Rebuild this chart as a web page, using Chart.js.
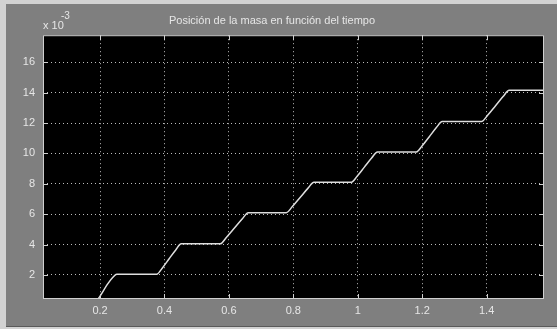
<!DOCTYPE html>
<html>
<head>
<meta charset="utf-8">
<script src="https://cdn.jsdelivr.net/npm/chart.js@4"></script>
<style>
html,body{margin:0;padding:0;background:#7f7f7f;}
canvas{display:block;}
</style>
</head>
<body>
<canvas id="c" width="557" height="329"></canvas>
<script>
// ---- data (position in units of 1e-3) ----
const titleText = "Posición de la masa en función del tiempo";
const time = [0.17, 0.194, 0.225, 0.24, 0.252,
  0.376, 0.393, 0.414, 0.435, 0.452,
  0.573, 0.592, 0.6165, 0.641, 0.66,
  0.778, 0.797, 0.821, 0.845, 0.864,
  0.98, 0.998, 1.0205, 1.043, 1.061,
  1.182, 1.2, 1.222, 1.244, 1.262,
  1.384, 1.403, 1.427, 1.451, 1.47,
  1.6];
const position = [-0.2, 0.42, 1.45, 1.85, 2.05,
  2.05, 2.45, 3.05, 3.65, 4.05,
  4.05, 4.47, 5.07, 5.68, 6.1,
  6.1, 6.5, 7.1, 7.7, 8.1,
  8.1, 8.5, 9.1, 9.7, 10.1,
  10.1, 10.5, 11.1, 11.7, 12.1,
  12.1, 12.51, 13.12, 13.74, 14.15,
  14.15];
const xTicks = [0.2, 0.4, 0.6, 0.8, 1.0, 1.2, 1.4];
const yTicks = [2, 4, 6, 8, 10, 12, 14, 16];
const xRange = [0.023, 1.578];
const yRange = [0.42, 17.78];

const FONT = "'Liberation Sans', Arial, sans-serif";

const scopePlugin = {
  id: 'scope',
  beforeDraw(chart) {
    const ctx = chart.ctx, a = chart.chartArea;
    ctx.save();
    ctx.fillStyle = '#d2d2d2';
    ctx.fillRect(0, 0, chart.width, chart.height);
    ctx.fillStyle = '#7f7f7f';
    ctx.fillRect(6, 4, chart.width - 6, chart.height - 6);
    ctx.fillStyle = '#5a5a5a';
    ctx.fillRect(6, chart.height - 3, chart.width - 6, 1);
    ctx.fillStyle = '#000';
    ctx.fillRect(a.left, a.top, a.right - a.left, a.bottom - a.top);
    ctx.restore();
  },
  afterDraw(chart) {
    const ctx = chart.ctx, a = chart.chartArea;
    const xs = chart.scales.x, ys = chart.scales.y;
    ctx.save();
    ctx.strokeStyle = '#d0d0d0';
    ctx.lineWidth = 1;
    ctx.strokeRect(a.left + 0.5, a.top + 0.5, a.right - a.left - 1, a.bottom - a.top - 1);
    ctx.beginPath();
    const L = 5;
    xTicks.forEach(v => {
      const px = Math.round(xs.getPixelForValue(v)) + 0.5;
      ctx.moveTo(px, a.bottom); ctx.lineTo(px, a.bottom - L);
      ctx.moveTo(px, a.top); ctx.lineTo(px, a.top + L);
    });
    yTicks.forEach(v => {
      const py = Math.round(ys.getPixelForValue(v)) + 0.5;
      ctx.moveTo(a.left, py); ctx.lineTo(a.left + L, py);
      ctx.moveTo(a.right, py); ctx.lineTo(a.right - L, py);
    });
    ctx.stroke();
    // exponent label
    ctx.fillStyle = '#e6e6e6';
    ctx.textBaseline = 'alphabetic';
    ctx.font = '11px ' + FONT;
    ctx.fillText('x 10', 43, 29);
    ctx.font = '10px ' + FONT;
    ctx.fillText('-3', 61, 19);
    ctx.restore();
  }
};

new Chart(document.getElementById('c'), {
  type: 'line',
  data: {
    datasets: [{
      data: time.map((t, i) => ({x: t, y: position[i]})),
      borderColor: '#dedede',
      borderWidth: 1.5,
      pointRadius: 0,
      cubicInterpolationMode: 'monotone',
      fill: false
    }]
  },
  options: {
    responsive: false,
    animation: false,
    events: [],
    layout: {padding: {left: 0, right: 13, top: 0, bottom: 0}},
    plugins: {
      legend: {display: false},
      tooltip: {enabled: false},
      title: {
        display: true,
        text: titleText,
        color: '#e6e6e6',
        font: {family: FONT, size: 11, weight: 'normal'},
        padding: {top: 14, bottom: 8}
      }
    },
    scales: {
      x: {
        type: 'linear',
        min: xRange[0], max: xRange[1],
        afterBuildTicks(s) { s.ticks = xTicks.map(v => ({value: v})); },
        afterFit(s) { s.height = 30; },
        ticks: {
          color: '#e6e6e6', font: {family: FONT, size: 11}, padding: 5,
          maxRotation: 0, autoSkip: false,
          callback: v => String(Math.round(v * 10) / 10)
        },
        grid: {color: '#bdbdbd', lineWidth: 1, drawTicks: false},
        border: {display: false, dash: [1, 3]}
      },
      y: {
        type: 'linear',
        min: yRange[0], max: yRange[1],
        afterBuildTicks(s) { s.ticks = yTicks.map(v => ({value: v})); },
        afterFit(s) { s.width = 43; },
        ticks: {
          color: '#e6e6e6', font: {family: FONT, size: 11}, padding: 8,
          autoSkip: false, callback: v => String(v)
        },
        grid: {color: '#bdbdbd', lineWidth: 1, drawTicks: false},
        border: {display: false, dash: [1, 3]}
      }
    }
  },
  plugins: [scopePlugin]
});
</script>
</body>
</html>
